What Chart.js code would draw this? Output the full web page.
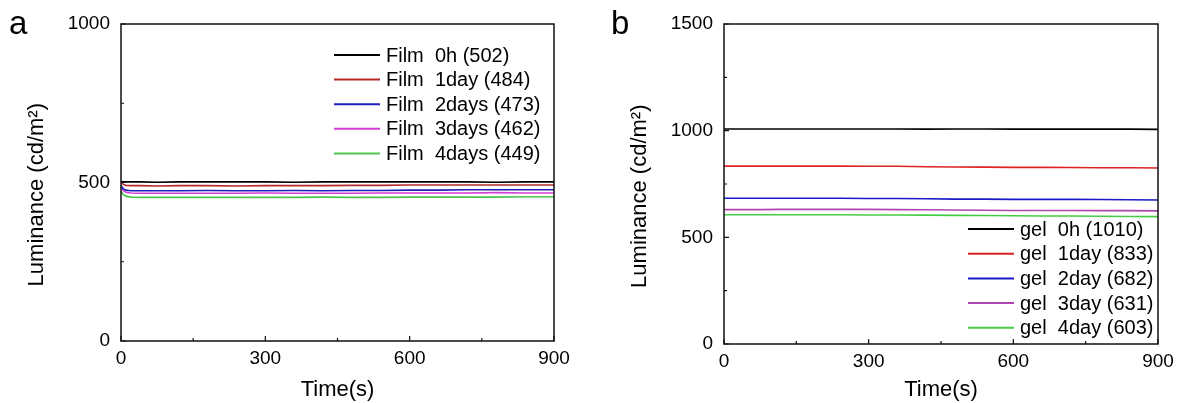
<!DOCTYPE html>
<html>
<head>
<meta charset="utf-8">
<script src="https://cdn.jsdelivr.net/npm/chart.js@4.4.1/dist/chart.umd.min.js"></script>
<style>
  html, body { margin: 0; padding: 0; background: #fff; }
  body { width: 1182px; height: 403px; position: relative; overflow: hidden; font-family: "Liberation Sans", Arial, sans-serif; }
  .panel { position: absolute; top: 0; height: 403px; }
  .tag { position: absolute; font-size: 33px; color: #000; line-height: 1; }
</style>
</head>
<body>
<div class="panel" style="left:0;width:600px"><canvas id="cA" width="600" height="403"></canvas></div>
<div class="panel" style="left:600px;width:582px"><canvas id="cB" width="582" height="403"></canvas></div>
<div class="tag" style="left:9px;top:6px">a</div>
<div class="tag" style="left:611px;top:6px">b</div>
<script>
// ---- data ----
const timeS = [0, 5, 10, 20, 40, 75, 120, 180, 240, 300, 360, 420, 480, 540, 600, 660, 720, 780, 840, 900];

const filmLabels = ['Film  0h (502)', 'Film  1day (484)', 'Film  2days (473)', 'Film  3days (462)', 'Film  4days (449)'];
const film0h    = [503, 502, 502, 502, 502, 501, 502, 502, 502, 502, 501, 502, 502, 502, 502, 502, 502, 501, 502, 502];
const film1day  = [500, 494, 491, 490, 490, 489, 490, 490, 489, 490, 490, 490, 491, 491, 492, 492, 492, 492, 492, 492];
const film2days = [490, 480, 476, 474, 474, 474, 474, 475, 474, 474, 475, 474, 475, 475, 476, 476, 477, 477, 477, 477];
const film3days = [486, 474, 469, 467, 466, 466, 466, 466, 466, 467, 466, 466, 466, 467, 467, 467, 467, 468, 467, 467];
const film4days = [472, 462, 457, 454, 453, 453, 453, 453, 453, 453, 453, 454, 453, 453, 454, 454, 454, 454, 455, 455];

const gelLabels = ['gel  0h (1010)', 'gel  1day (833)', 'gel  2day (682)', 'gel  3day (631)', 'gel  4day (603)'];
const gel0h   = [1008, 1008, 1008, 1008, 1008, 1008, 1008, 1008, 1008, 1008, 1008, 1007, 1008, 1008, 1007, 1007, 1007, 1007, 1007, 1006];
const gel1day = [834, 834, 834, 834, 834, 834, 834, 834, 834, 833, 833, 831, 830, 829, 828, 828, 827, 826, 826, 825];
const gel2day = [683, 683, 683, 683, 683, 683, 683, 683, 683, 682, 682, 681, 679, 679, 678, 678, 678, 677, 676, 675];
const gel3day = [630, 630, 630, 630, 630, 630, 631, 631, 631, 631, 630, 629, 628, 627, 626, 626, 626, 625, 625, 624];
const gel4day = [606, 606, 606, 606, 606, 606, 606, 606, 606, 605, 605, 604, 603, 602, 601, 600, 600, 599, 598, 597];

const xTicks = [0, 300, 600, 900];
const yTicksA = [0, 500, 1000];
const yTicksB = [0, 500, 1000, 1500];

// ---- styling ----
const FONT = '"Liberation Sans", Arial, sans-serif';
const filmColors = ['#000000', '#b52a2a', '#1f1fbf', '#d43dd4', '#4ec44e'];
const gelColors  = ['#000000', '#e02222', '#1a1ac8', '#b045b0', '#44cc44'];

function toPoints(vals) { return vals.map((v, i) => ({ x: timeS[i], y: v })); }

function makeDatasets(labels, series, colors) {
  return series.map((s, i) => ({
    label: labels[i], data: toPoints(s), borderColor: colors[i], backgroundColor: colors[i],
    borderWidth: 1.6, pointRadius: 0, tension: 0, fill: false
  }));
}

// frame, inward ticks and in-plot legend
const framePlugin = {
  id: 'frameLegend',
  afterDatasetsDraw(chart, args, opts) {
    const ctx = chart.ctx, a = chart.chartArea;
    const xs = chart.scales.x, ys = chart.scales.y;
    ctx.save();
    ctx.strokeStyle = '#111';
    ctx.lineWidth = 1.5;
    ctx.strokeRect(a.left, a.top, a.right - a.left, a.bottom - a.top);
    ctx.lineWidth = 1.2;
    ctx.beginPath();
    xs.ticks.forEach((t, i) => {
      const px = xs.getPixelForValue(t.value);
      ctx.moveTo(px, a.bottom); ctx.lineTo(px, a.bottom - 5);
      if (i < xs.ticks.length - 1) {
        const mv = (t.value + xs.ticks[i + 1].value) / 2;
        const pm = xs.getPixelForValue(mv);
        ctx.moveTo(pm, a.bottom); ctx.lineTo(pm, a.bottom - 3);
      }
    });
    ys.ticks.forEach((t, i) => {
      const py = ys.getPixelForValue(t.value);
      ctx.moveTo(a.left, py); ctx.lineTo(a.left + 5, py);
      if (i < ys.ticks.length - 1) {
        const mv = (t.value + ys.ticks[i + 1].value) / 2;
        const pm = ys.getPixelForValue(mv);
        ctx.moveTo(a.left, pm); ctx.lineTo(a.left + 3, pm);
      }
    });
    ctx.stroke();
    // legend
    ctx.font = '20px ' + FONT;
    ctx.textBaseline = 'middle';
    ctx.textAlign = 'left';
    chart.data.datasets.forEach((ds, i) => {
      const y = opts.y0 + i * opts.dy;
      ctx.strokeStyle = ds.borderColor;
      ctx.lineWidth = 2;
      ctx.beginPath();
      ctx.moveTo(opts.x0, y); ctx.lineTo(opts.x0 + opts.len, y);
      ctx.stroke();
      ctx.fillStyle = '#000';
      ctx.fillText(ds.label, opts.x0 + opts.len + opts.gap, y + 1);
    });
    ctx.restore();
  }
};

function makeChart(id, labels, series, colors, yMax, yTicks, geom) {
  return new Chart(document.getElementById(id), {
    type: 'line',
    data: { datasets: makeDatasets(labels, series, colors) },
    options: {
      responsive: false, animation: false, devicePixelRatio: 1,
      layout: { padding: { left: 0, top: geom.top, right: geom.right, bottom: 0 } },
      plugins: {
        legend: { display: false }, tooltip: { enabled: false },
        frameLegend: geom.legend
      },
      scales: {
        x: {
          type: 'linear', min: 0, max: 900,
          afterBuildTicks: (s) => { s.ticks = xTicks.map(v => ({ value: v })); },
          ticks: { color: '#000', font: { family: FONT, size: 19 }, padding: 6, maxRotation: 0, callback: (v) => String(v) },
          grid: { display: false, drawTicks: false },
          border: { display: false },
          title: { display: true, text: 'Time(s)', color: '#000', font: { family: FONT, size: 22 }, padding: { top: 0, bottom: 0 } },
          afterFit: (s) => { s.height = geom.xH; }
        },
        y: {
          type: 'linear', min: 0, max: yMax,
          afterBuildTicks: (s) => { s.ticks = yTicks.map(v => ({ value: v })); },
          ticks: { color: '#000', font: { family: FONT, size: 19 }, padding: 11, callback: (v) => String(v) },
          grid: { display: false, drawTicks: false },
          border: { display: false },
          title: { display: true, text: 'Luminance (cd/m²)    ', color: '#000', font: { family: FONT, size: 22 }, padding: { top: geom.yTitlePad, bottom: 0 } },
          afterFit: (s) => { s.width = geom.yW; }
        }
      }
    },
    plugins: [framePlugin]
  });
}

makeChart('cA', filmLabels, [film0h, film1day, film2days, film3days, film4days], filmColors, 1000, yTicksA,
  { top: 24, right: 46, xH: 62, yW: 121, yTitlePad: 24,
    legend: { x0: 334, len: 46, gap: 6, y0: 55, dy: 24.6 } });

makeChart('cB', gelLabels, [gel0h, gel1day, gel2day, gel3day, gel4day], gelColors, 1500, yTicksB,
  { top: 24, right: 24, xH: 59, yW: 124, yTitlePad: 27,
    legend: { x0: 368, len: 46, gap: 6, y0: 229, dy: 24.7 } });
</script>
</body>
</html>
